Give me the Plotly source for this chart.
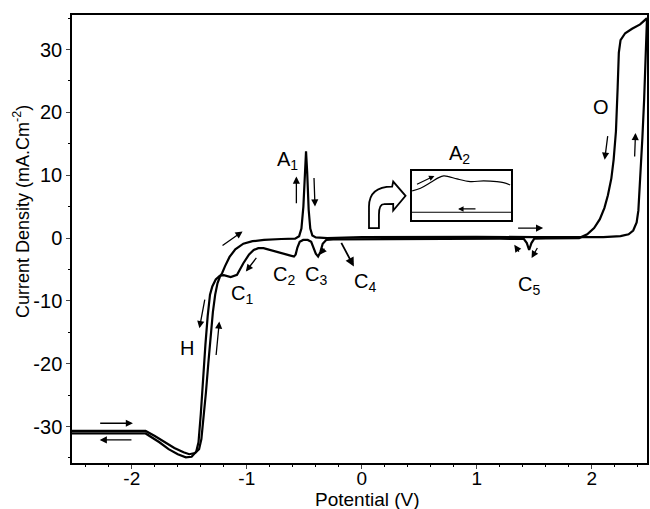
import plotly.graph_objects as go

# ---------------- data ----------------
# forward (anodic) scan: -2.5 V -> +2.48 V
fwd_E = [-2.52, -2.2, -1.88, -1.80, -1.72, -1.63, -1.55, -1.50, -1.45, -1.415, -1.395,
         -1.375, -1.355, -1.335, -1.315, -1.295, -1.275, -1.255, -1.235, -1.215, -1.19,
         -1.15, -1.10, -1.03, -0.95, -0.85, -0.70, -0.58, -0.545, -0.525, -0.508, -0.495,
         -0.485, -0.475, -0.462, -0.448, -0.43, -0.40, -0.30, 0.0, 0.5, 1.0, 1.5, 1.9, 2.1,
         2.25, 2.32, 2.36, 2.39, 2.405, 2.415, 2.425, 2.44, 2.455, 2.465, 2.472, 2.48]
fwd_I = [-30.7, -30.7, -30.7, -31.5, -32.4, -33.4, -34.1, -34.4, -34.2, -33.6, -32.0,
         -28.5, -24.5, -20.0, -15.5, -11.8, -9.0, -7.2, -6.2, -5.6, -4.5,
         -3.0, -1.8, -0.9, -0.5, -0.3, -0.15, -0.1, 0.3, 1.5, 5.0, 10.5,
         13.8, 10.5, 4.5, 1.5, 0.4, 0.1, 0.0, 0.15, 0.2, 0.2, 0.15, 0.1, 0.15,
         0.3, 0.6, 1.2, 2.5, 4.4, 7.5, 11.0, 16.0, 22.0, 27.0, 31.5, 35.0]

# reverse (cathodic) scan: +2.48 V -> -2.5 V
rev_E = [2.48, 2.42, 2.35, 2.29, 2.25, 2.235, 2.225, 2.21, 2.19, 2.17, 2.14, 2.11, 2.07,
         2.02, 1.96, 1.89, 1.60, 1.50, 1.475, 1.455, 1.435, 1.41, 1.20, 0.5, 0.0, -0.25,
         -0.31, -0.34, -0.36, -0.38, -0.40, -0.42, -0.44, -0.47, -0.51, -0.54, -0.56,
         -0.575, -0.59, -0.62, -0.68, -0.74, -0.80, -0.855, -0.90, -0.94, -0.98, -1.03,
         -1.085, -1.14, -1.20, -1.235, -1.27, -1.30, -1.32, -1.34, -1.36, -1.38, -1.40,
         -1.42, -1.44, -1.48, -1.53, -1.60, -1.68, -1.76, -1.84, -1.88, -2.2, -2.52]
rev_I = [35.0, 34.0, 33.3, 32.6, 31.5, 29.5, 24.0, 17.0, 12.5, 9.5, 6.8, 4.8, 3.0,
         1.6, 0.6, 0.0, -0.05, -0.1, -0.8, -1.9, -0.8, -0.15, -0.1, -0.1, -0.1, -0.2,
         -0.3, -0.9, -2.2, -2.95, -2.5, -1.4, -0.6, -0.3, -0.3, -0.6, -1.5,
         -2.6, -2.95, -2.8, -2.5, -2.2, -1.8, -1.6, -1.6, -1.9, -2.6, -4.0,
         -5.85, -6.2, -5.9, -6.0, -6.6, -7.7, -9.0, -12.4, -17.0, -23.0, -28.0,
         -32.5, -34.0, -34.8, -34.9, -34.4, -33.6, -32.5, -31.5, -31.1, -31.1, -31.1]

# zoomed inset around A2 (normalised units)
inset_fwd_x = [0.007, 0.09, 0.19, 0.273, 0.323, 0.373, 0.457, 0.59, 0.723, 0.857, 0.923, 0.99]
inset_fwd_y = [0.588, 0.642, 0.757, 0.858, 0.892, 0.878, 0.831, 0.777, 0.791, 0.777, 0.757, 0.709]
inset_rev_x = [0.0, 1.0]
inset_rev_y = [0.155, 0.155]

x_ticks = [-2, -1, 0, 1, 2]
x_ticktext = ["-2", "-1", "0", "1", "2"]
y_ticks = [-30, -20, -10, 0, 10, 20, 30]
y_ticktext = ["-30", "-20", "-10", "0", "10", "20", "30"]

FONT = "Liberation Sans, Arial, sans-serif"

fig = go.Figure()
fig.add_trace(go.Scatter(x=fwd_E, y=fwd_I, mode="lines",
                         line=dict(color="black", width=2.2), showlegend=False))
fig.add_trace(go.Scatter(x=rev_E, y=rev_I, mode="lines",
                         line=dict(color="black", width=2.2), showlegend=False))
fig.add_trace(go.Scatter(x=inset_fwd_x, y=inset_fwd_y, mode="lines", xaxis="x2", yaxis="y2",
                         line=dict(color="black", width=1.2, shape="spline"), showlegend=False))
fig.add_trace(go.Scatter(x=inset_rev_x, y=inset_rev_y, mode="lines", xaxis="x2", yaxis="y2",
                         line=dict(color="black", width=1.2), showlegend=False))

# plot area in pixels
L, R, T, B = 72, 649, 15, 463.3
W, H = 650, 509


def to_paper(px, py):
    return (px - L) / (R - L), (B - py) / (B - T)


ann = []
labels = [("A<sub>1</sub>", -0.65, 12.3), ("C<sub>1</sub>", -1.04, -9.0),
          ("C<sub>2</sub>", -0.68, -5.9), ("C<sub>3</sub>", -0.40, -6.0),
          ("C<sub>4</sub>", 0.03, -7.1), ("C<sub>5</sub>", 1.45, -7.6),
          ("H", -1.52, -17.5), ("O", 2.08, 20.9), ("A<sub>2</sub>", 0.85, 13.3)]
for t, x, y in labels:
    ann.append(dict(text=t, x=x, y=y, xref="x", yref="y", showarrow=False,
                    font=dict(family=FONT, size=20, color="black")))

# axis titles
tx, ty = to_paper(369, 500)
ann.append(dict(text="Potential (V)", x=tx, y=ty, xref="paper", yref="paper",
                xanchor="center", yanchor="middle", showarrow=False,
                font=dict(family=FONT, size=19, color="black")))
tx, ty = to_paper(22, 212)
ann.append(dict(text="Current Density (mA.Cm<sup>-2</sup>)", x=tx, y=ty,
                xref="paper", yref="paper", xanchor="center", yanchor="middle",
                textangle=-90, showarrow=False,
                font=dict(family=FONT, size=18, color="black")))

arrows = [(-1.224, -1.34, -1.037, 1.05), (-0.907, -2.93, -1.008, -5.32),
          (-0.569, 5.3, -0.569, 9.8), (-0.416, 9.8, -0.407, 5.03),
          (-0.315, -1.43, -0.367, -2.66),
          (-2.288, -29.47, -1.99, -29.47), (-1.99, -32.13, -2.279, -32.13),
          (-1.363, -9.56, -1.412, -14.34), (-1.268, -18.86, -1.239, -13.28),
          (2.140, 16.45, 2.112, 12.47), (2.372, 12.74, 2.380, 16.72),
          (1.346, 1.59, 1.577, 1.59), (1.375, -2.39, 1.326, -1.07),
          (1.534, -1.34, 1.476, -3.19)]
for ax_, ay_, x, y in arrows:
    ann.append(dict(x=x, y=y, ax=ax_, ay=ay_, xref="x", yref="y", axref="x", ayref="y",
                    text="", showarrow=True, arrowhead=2, arrowsize=1.1, arrowwidth=1.3,
                    arrowcolor="black", standoff=0, startstandoff=0))
# C4 arrow (bolder)
ann.append(dict(x=-0.069, y=-4.52, ax=-0.185, ay=-0.54, xref="x", yref="y", axref="x", ayref="y",
                text="", showarrow=True, arrowhead=2, arrowsize=1.0, arrowwidth=1.8,
                arrowcolor="black", standoff=0))
# inset arrows
for ax_, ay_, x, y in [(0.04, 0.709, 0.23, 0.892), (0.657, 0.223, 0.467, 0.223)]:
    ann.append(dict(x=x, y=y, ax=ax_, ay=ay_, xref="x2", yref="y2", axref="x2", ayref="y2",
                    text="", showarrow=True, arrowhead=2, arrowsize=1.0, arrowwidth=1.1,
                    arrowcolor="black", standoff=0))


# hollow curved arrow (pixel outline -> paper)
def P(px, py):
    a, b = to_paper(px, py)
    return f"{a:.4f},{b:.4f}"


path = ("M " + P(370, 228.3) + " L " + P(370, 206.7) +
        " Q " + P(370, 186.7) + " " + P(393.3, 186.7) +
        " L " + P(394.3, 181.7) + " L " + P(406.7, 196) + " L " + P(394.3, 210.7) +
        " L " + P(394.3, 204) + " L " + P(385, 204.3) +
        " Q " + P(380, 204.3) + " " + P(380, 215) +
        " L " + P(380, 228.3) + " Z")
shapes = [dict(type="path", path=path, xref="paper", yref="paper",
               line=dict(color="black", width=1.8), fillcolor="white")]

ix0, iy1 = to_paper(412.7, 170.7)
ix1, iy0 = to_paper(512.7, 220)

fig.update_layout(
    width=W, height=H,
    margin=dict(l=L, r=W - R, t=T, b=H - B),
    paper_bgcolor="white", plot_bgcolor="white",
    font=dict(family=FONT, size=19, color="black"),
    annotations=ann, shapes=shapes,
    xaxis=dict(range=[-2.52, 2.48], tickvals=x_ticks, ticktext=x_ticktext,
               ticks="outside", ticklen=4, ticklabelstandoff=-7,
               tickwidth=1, showline=True, linecolor="black", linewidth=1.5, mirror=True,
               showgrid=False, zeroline=False,
               minor=dict(dtick=0.2, ticks="outside", ticklen=2, tickcolor="black"),
               tickfont=dict(size=19)),
    yaxis=dict(range=[-35.8, 35.5], tickvals=y_ticks, ticktext=y_ticktext,
               ticks="outside", ticklen=4,
               tickwidth=1, showline=True, linecolor="black", linewidth=1.5, mirror=True,
               showgrid=False, zeroline=False,
               minor=dict(dtick=5, ticks="outside", ticklen=2, tickcolor="black"),
               tickfont=dict(size=20)),
    xaxis2=dict(domain=[ix0, ix1], anchor="y2", range=[0, 1], showticklabels=False,
                ticks="", showgrid=False, zeroline=False, showline=True, mirror=True,
                linecolor="black", linewidth=1.8),
    yaxis2=dict(domain=[iy0, iy1], anchor="x2", range=[0, 1], showticklabels=False,
                ticks="", showgrid=False, zeroline=False, showline=True, mirror=True,
                linecolor="black", linewidth=1.8),
)

fig.write_html("out.html")
